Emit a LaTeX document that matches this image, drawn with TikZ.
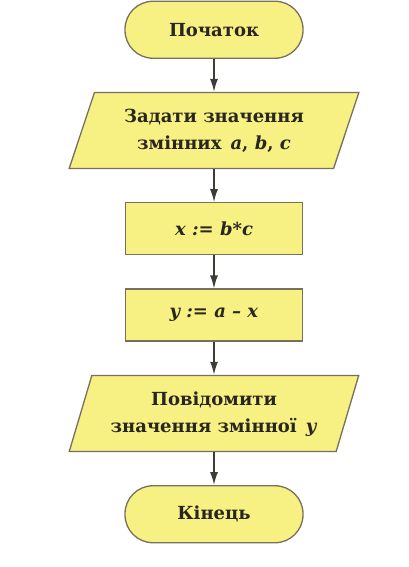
\documentclass[tikz,border=0pt]{standalone}
\usepackage{fontspec}
\setmainfont{DejaVu Serif}
\usepackage{tikz}
\usetikzlibrary{matrix}
\usetikzlibrary{arrows.meta}
\usetikzlibrary{shapes.geometric}
\definecolor{blockfill}{RGB}{247,240,130}
\definecolor{blockline}{RGB}{120,112,92}
\definecolor{ink}{RGB}{40,38,30}
\newcommand{\twolines}[2]{\begin{tabular}{@{}c@{}}#1\\#2\end{tabular}}
\tikzset{
	block/.style={draw=blockline,fill=blockfill,line width=1.3pt,text=ink,font=\bfseries\fontsize{18}{27}\selectfont},
	term/.style={block,rectangle,rounded corners=28pt,minimum width=178pt,minimum height=57pt},
	proc/.style={block,rectangle,minimum width=177pt,minimum height=52pt},
	io/.style={block,trapezium,trapezium left angle=72,trapezium right angle=108,trapezium stretches=true,minimum width=290pt,minimum height=76pt}
}

\begin{document}
\begin{tikzpicture}[x=1pt,y=1pt,->,>={Latex[length=13pt,width=8pt]},line width=1.6pt,draw=ink!90]
		\useasboundingbox (0,0) rectangle (408,567);
		\matrix (chart) [matrix of nodes,row sep=33pt,ampersand replacement=\&] at (214,295)
		{
			|[term](start)| Початок \\
			|[io](input)| \twolines{Задати значення}{змінних\enspace\textit{a}, \textit{b}, \textit{c}} \\
			|[proc](calcx)| \textit{x := b*c} \\
			|[proc](calcy)| \textit{y := a – x} \\
			|[io](output)| \twolines{Повідомити}{значення змінної\enspace\textit{y}} \\
			|[term](stop)| Кінець \\
		};
		\draw  (start) -- (input);
		\draw  (input) -- (calcx);
		\draw  (calcx) -- (calcy);
		\draw  (calcy) -- (output);
		\draw  (output) -- (stop);
\end{tikzpicture}
\end{document}
